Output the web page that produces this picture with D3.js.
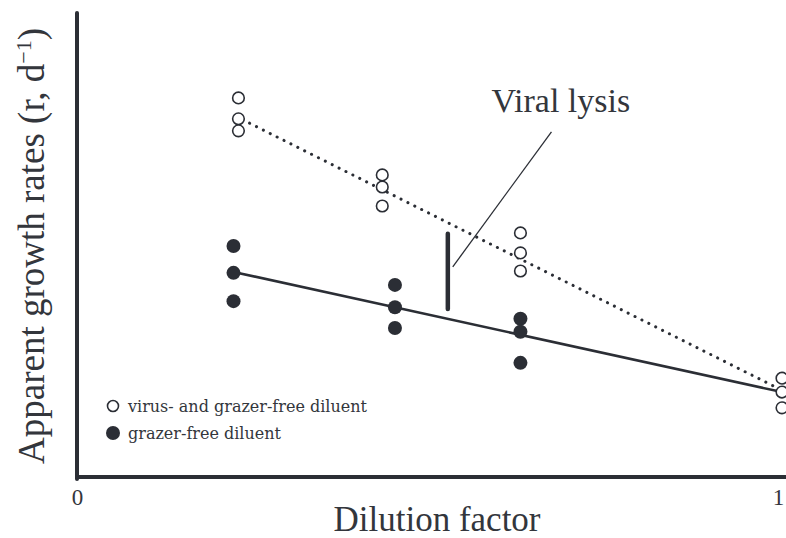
<!DOCTYPE html>
<html>
<head>
<meta charset="utf-8">
<script src="https://cdn.jsdelivr.net/npm/d3@7"></script>
<style>
  html, body { margin: 0; padding: 0; background: #fff; }
  svg { display: block; }
  text { font-family: "Liberation Serif", "Times New Roman", serif; fill: #33363c; }
</style>
</head>
<body>
<div id="chart"></div>
<script>
// Replicate measurements of apparent growth rate at each dilution level
const virusFreeX = [0.229, 0.229, 0.229, 0.433, 0.433, 0.433, 0.629, 0.629, 0.629, 1, 1, 1];
const virusFreeY = [8.17, 7.72, 7.46, 6.51, 6.25, 5.84, 5.26, 4.83, 4.44, 2.13, 1.83, 1.49];
const grazerFreeX = [0.222, 0.222, 0.222, 0.451, 0.451, 0.451, 0.629, 0.629, 0.629];
const grazerFreeY = [4.98, 4.40, 3.79, 4.14, 3.66, 3.21, 3.41, 3.13, 2.46];

// Fitted regression lines (start and end points)
const virusFreeFit = [[0.235, 7.70], [1, 1.87]];
const grazerFreeFit = [[0.222, 4.42], [1, 1.83]];

// Viral lysis bracket and its label pointer
const lysisBar = [[0.526, 5.24], [0.526, 3.62]];
const lysisPointer = [[0.533, 4.53], [0.673, 7.44]];
const lysisLabel = { x: 0.588, y: 7.87, text: "Viral lysis" };

const xTicks = [0, 1];
const legendItems = ["virus- and grazer-free diluent", "grazer-free diluent"];

const W = 786, H = 538;
const ink = "#2b2e35";

const svg = d3.select("#chart").append("svg")
  .attr("width", W).attr("height", H);

const x = d3.scaleLinear().domain([0, 1]).range([77, 782]);
const y = d3.scaleLinear().domain([0, 10]).range([477, 13]);

// Axes
const xAxis = d3.axisBottom(x).tickValues(xTicks).tickFormat(d3.format("d")).tickSize(0).tickPadding(12);
const gx = svg.append("g").attr("transform", `translate(0,${y(0)})`).call(xAxis);
gx.select(".domain").remove();
gx.selectAll("text")
  .style("font-family", '"Liberation Serif", serif')
  .style("font-size", "23px").attr("fill", "#555")
  .attr("dx", (d) => d === 1 ? -4 : 0);

svg.append("line")
  .attr("x1", x(0)).attr("x2", W)
  .attr("y1", y(0)).attr("y2", y(0))
  .attr("stroke", ink).attr("stroke-width", 4);
svg.append("line")
  .attr("x1", x(0)).attr("x2", x(0))
  .attr("y1", y(0) + 2).attr("y2", y(10))
  .attr("stroke", ink).attr("stroke-width", 4).attr("stroke-linecap", "round");

// Axis titles
svg.append("text")
  .attr("x", 437).attr("y", 531)
  .attr("text-anchor", "middle")
  .style("font-size", "35px")
  .text("Dilution factor");

const yTitle = svg.append("text")
  .attr("transform", `translate(44,246) rotate(-90)`)
  .attr("text-anchor", "middle")
  .style("font-size", "37px");
yTitle.append("tspan").text("Apparent growth rates (r, d");
yTitle.append("tspan").attr("dy", -13).style("font-size", "22px").text("\u22121");
yTitle.append("tspan").attr("dy", 13).text(")");

// Regression lines
const line = d3.line().x(d => x(d[0])).y(d => y(d[1]));
svg.append("path").datum(grazerFreeFit)
  .attr("d", line).attr("fill", "none")
  .attr("stroke", ink).attr("stroke-width", 2.6);
svg.append("path").datum(virusFreeFit)
  .attr("d", line).attr("fill", "none")
  .attr("stroke", ink).attr("stroke-width", 3)
  .attr("stroke-dasharray", "0.1 7.6").attr("stroke-linecap", "round");

// Viral lysis bracket and pointer
svg.append("path").datum(lysisBar)
  .attr("d", line).attr("stroke", ink).attr("stroke-width", 4.5)
  .attr("stroke-linecap", "round");
svg.append("path").datum(lysisPointer)
  .attr("d", line).attr("stroke", ink).attr("stroke-width", 1.3);
svg.append("text")
  .attr("x", x(lysisLabel.x)).attr("y", y(lysisLabel.y))
  .style("font-size", "34px")
  .text(lysisLabel.text);

// Points
svg.append("g").selectAll("circle")
  .data(d3.zip(grazerFreeX, grazerFreeY))
  .join("circle")
  .attr("cx", d => x(d[0])).attr("cy", d => y(d[1]))
  .attr("r", 7).attr("fill", ink);

svg.append("g").selectAll("circle")
  .data(d3.zip(virusFreeX, virusFreeY))
  .join("circle")
  .attr("cx", d => x(d[0])).attr("cy", d => y(d[1]))
  .attr("r", 5.8).attr("fill", "#fff")
  .attr("stroke", ink).attr("stroke-width", 1.6);

// Legend
const legend = svg.append("g").attr("transform", "translate(113,406)");
legendItems.forEach((label, i) => {
  const g = legend.append("g").attr("transform", `translate(0,${i * 27})`);
  if (i === 0) {
    g.append("circle").attr("r", 5.5).attr("fill", "#fff")
      .attr("stroke", ink).attr("stroke-width", 1.6);
  } else {
    g.append("circle").attr("r", 7).attr("fill", ink);
  }
  g.append("text").attr("x", 15).attr("y", 5.5)
    .style("font-family", '"DejaVu Serif", serif')
    .style("font-size", "16px")
    .text(label);
});
</script>
</body>
</html>
